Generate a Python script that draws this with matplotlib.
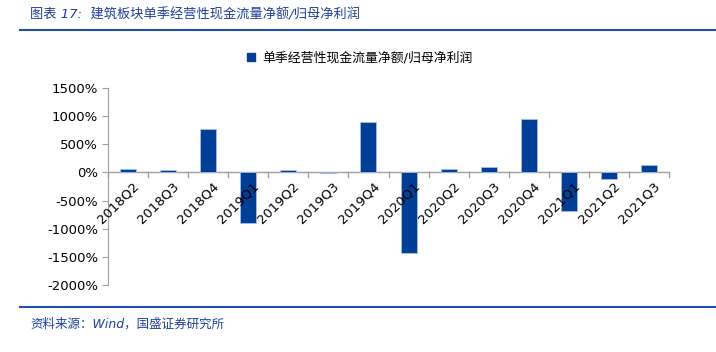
import matplotlib
matplotlib.use("Agg")
import matplotlib.pyplot as plt
from matplotlib.lines import Line2D
from matplotlib.patches import Patch
from matplotlib.ticker import FuncFormatter

plt.rcParams['font.family'] = ['DejaVu Sans', 'Noto Sans CJK SC']

categories = ["2018Q2", "2018Q3", "2018Q4", "2019Q1", "2019Q2", "2019Q3", "2019Q4",
              "2020Q1", "2020Q2", "2020Q3", "2020Q4", "2021Q1", "2021Q2", "2021Q3"]
values = [60, 35, 775, -890, 45, -15, 900, -1440, 60, 100, 950, -690, -115, 130]
yticks = [1500, 1000, 500, 0, -500, -1000, -1500, -2000]
series_name = "单季经营性现金流量净额/归母净利润"
title = "图表 17:  建筑板块单季经营性现金流量净额/归母净利润"
source = "资料来源：Wind，国盛证券研究所"

bar_color = "#003f98"
W, H = 716, 352
fig = plt.figure(figsize=(W / 100, H / 100), dpi=100)

ax = fig.add_axes([108 / W, 1 - 285 / H, (669 - 108) / W, (285 - 88) / H])
x = list(range(len(categories)))
ax.bar(x, values, width=0.4, color=bar_color, edgecolor="#a9bde0", linewidth=0.6, zorder=3)
ax.set_xlim(-0.5, len(categories) - 0.5)
ax.set_ylim(-2000, 1500)
ax.set_yticks(yticks)
ax.yaxis.set_major_formatter(FuncFormatter(lambda v, p: f"{int(v)}%"))
for s in ["top", "right", "bottom"]:
    ax.spines[s].set_visible(False)
ax.spines["left"].set_color("#a0a0a0")
ax.tick_params(axis="y", direction="out", length=4, color="#a0a0a0", labelsize=9.5, pad=3)
ax.set_xticks([])

# zero axis line with category boundary ticks
ax.axhline(0, color="#a0a0a0", linewidth=1.0, zorder=2)
yr = 3500
for b in range(len(categories) + 1):
    ax.plot([b - 0.5, b - 0.5], [0, -yr * 5 / 197], color="#a0a0a0", linewidth=1.0, zorder=2, clip_on=False)

for i, c in enumerate(categories):
    ax.annotate(c, xy=(i, 0), xytext=(3, -5), textcoords="offset points",
                rotation=45, ha="right", va="top", fontsize=9.5, rotation_mode="anchor")

# legend
fig.legend(handles=[Patch(facecolor=bar_color, edgecolor=bar_color)], labels=[series_name],
           loc="center", bbox_to_anchor=(360 / W, 1 - 58 / H), frameon=False, fontsize=9.3,
           handlelength=0.6, handleheight=0.6, handletextpad=0.6)

# title & lines
fig.text(30 / W, 1 - 15 / H, title, fontsize=9.5, color="#1f3f99", style="italic", va="center", ha="left")
fig.add_artist(Line2D([20 / W, 1.0], [1 - 30 / H] * 2, color="#1f4fa8", linewidth=1.5))
fig.add_artist(Line2D([20 / W, 1.0], [1 - 307 / H] * 2, color="#1f4fa8", linewidth=1.5))
fig.text(30 / W, 1 - 324 / H, source, fontsize=9, color="#1f3f99", style="italic", va="center", ha="left")

fig.savefig("out.png", dpi=100)
